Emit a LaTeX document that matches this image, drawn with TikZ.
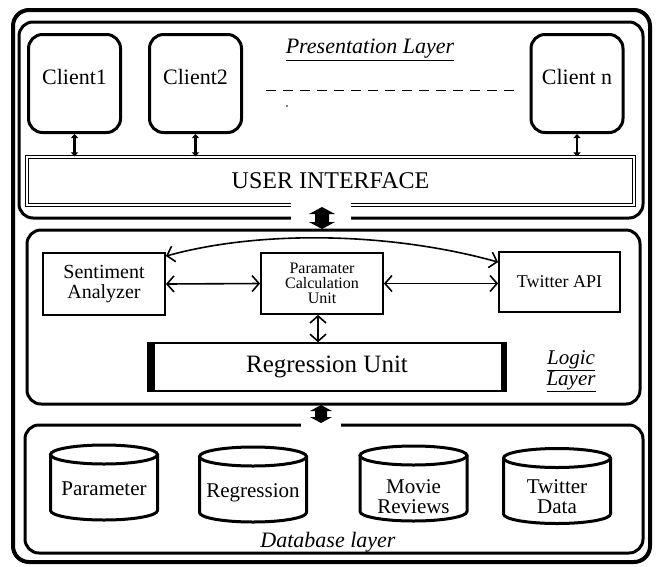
\documentclass[tikz,border=0pt]{standalone}
\usepackage{fontspec}
\setmainfont{Liberation Serif}
\usetikzlibrary{arrows.meta,calc}
\newcommand{\fsz}[2]{\fontsize{#1}{#2}\selectfont}
\begin{document}
\begin{tikzpicture}[x=1pt,y=-1pt,
  frame/.style={draw, line width=4pt, rounded corners=16pt, inner sep=0pt},
  layer/.style={draw, line width=3pt, rounded corners=14pt, inner sep=0pt},
  client/.style={draw, line width=3pt, rounded corners=14pt, inner sep=0pt,
                 minimum width=92pt, minimum height=98pt},
  box/.style={draw, line width=1.8pt, inner sep=0pt, align=center},
  dbtext/.style={font=\fsz{21}{20}, align=center, inner sep=0pt},
  lbl/.style={font=\fsz{22}{21}\itshape, align=center},
  arr/.style={line width=1.6pt, {Straight Barb[length=7pt,width=16pt]}-{Straight Barb[length=7pt,width=16pt]}},
  sarr/.style={line width=2.4pt, {Triangle[length=4pt,width=7pt]}-{Triangle[length=4pt,width=7pt]}},
  gap/.style={fill=white, inner sep=0pt},
  cyl/.pic={
    \draw[line width=3pt] (0,-28) ellipse [x radius=53.5pt, y radius=9.5pt];
    \draw[line width=3pt, line join=round] (-53.5,-28) -- (-53.5,28)
      arc[start angle=180, end angle=360, x radius=53.5pt, y radius=9.5pt] -- (53.5,-28);
  }
]
\useasboundingbox (0,0) rectangle (656,566);
% frames
\node[frame, minimum width=637pt, minimum height=552pt] (outer) at (331.5,286) {};
\node[layer, minimum width=624pt, minimum height=196pt] (pres) at (331,120) {};
\node[layer, minimum width=613pt, minimum height=174pt] (logic) at (333.5,317) {};
\node[layer, minimum width=618pt, minimum height=128pt] (dbl) at (334,489) {};

% presentation layer
\node[client, label={[font=\fsz{22}{24}, yshift=7pt]center:Client1}] (c1) at (74.5,83.5) {};
\node[client, label={[font=\fsz{22}{24}, yshift=7pt]center:Client2}] (c2) at (195.5,83.5) {};
\node[client, label={[font=\fsz{22}{24}, yshift=7pt]center:Client n}] (cn) at (577,83.5) {};
\node[lbl] (plab) at (370,50) {\underline{Presentation Layer}};
\coordinate (d1) at (266,90);
\coordinate (d2) at (517,90);
\draw[line width=1pt, dash pattern=on 10pt off 7pt] (d1) -- (d2);
\fill (287,106) circle (0.8pt);
\node[draw, double, double distance=2.4pt, line width=1.1pt, inner sep=0pt,
      minimum width=607pt, minimum height=48pt, font=\fsz{24}{26}] (ui) at (330.5,181) {USER INTERFACE};
\draw[sarr] (c1.south) -- (c1.south |- ui.north);
\draw[sarr] (c2.south) -- (c2.south |- ui.north);
\draw[sarr] (cn.south) -- (cn.south |- ui.north);

% connector between presentation and logic
\node[gap, minimum width=60pt, minimum height=22pt] (g1) at (321,213) {};
\coordinate (ba1) at (322,218);
\fill[shift={(ba1)}] (0,-11) -- (13,-4) -- (7,-4) -- (7,4) -- (13,4) -- (0,11)
   -- (-13,4) -- (-7,4) -- (-7,-4) -- (-13,-4) -- cycle;

% logic layer
\node[box, minimum width=122pt, minimum height=62pt, font=\fsz{20}{20}] (sa) at (104,284) {Sentiment\\Analyzer};
\node[box, minimum width=122pt, minimum height=61pt, font=\fsz{16}{15}] (pc) at (322,283.5) {Paramater\\Calculation\\Unit};
\node[box, minimum width=121pt, minimum height=60pt, font=\fsz{18}{20}] (tw) at (559.5,282) {Twitter API};
\node[box, line width=1.5pt, minimum width=358pt, minimum height=48pt, font=\fsz{25}{26}] (ru) at (327,367) {Regression Unit};
\fill (ru.north west) rectangle ($(ru.south west)+(8,0)$);
\fill (ru.north east) rectangle ($(ru.south east)+(-6,0)$);
\node[lbl, font=\fsz{21}{21}\itshape] (llab) at (571,371) {\underline{Logic}\\\underline{Layer}};
\draw[arr] (sa.east) -- (pc.west);
\draw[arr] (pc.east) -- (pc.east -| tw.west);
\draw[arr] ($(pc.south)+(-4,0)$) -- ($(pc.south |- ru.north)+(-4,0)$);
\draw[arr] ($(sa.north east)+(0,4)$) .. controls (260,230) and (390,232) .. ($(tw.north west)+(0,11)$);

% connector between logic and database
\node[gap, minimum width=40pt, minimum height=16pt] (g2) at (321,420) {};
\coordinate (ba2) at (321,414);
\fill[shift={(ba2)}] (0,-9) -- (11,-3) -- (6,-3) -- (6,3) -- (11,3) -- (0,9)
   -- (-11,3) -- (-6,3) -- (-6,-3) -- (-11,-3) -- cycle;

% database layer
\pic (p) at (104,482.5) {cyl};
\pic (r) at (253,484.5) {cyl};
\pic (m) at (413.5,483.5) {cyl};
\pic (t) at (557,486) {cyl};
\node[dbtext] (pt) at (104,489) {Parameter};
\node[dbtext] (rt) at (253,493) {Regression};
\node[dbtext] (mt) at (413.5,497) {Movie\\Reviews};
\node[dbtext] (tt) at (557,497) {Twitter\\Data};
\node[lbl] (dlab) at (328,543) {\underline{Database layer}};
\end{tikzpicture}
\end{document}
